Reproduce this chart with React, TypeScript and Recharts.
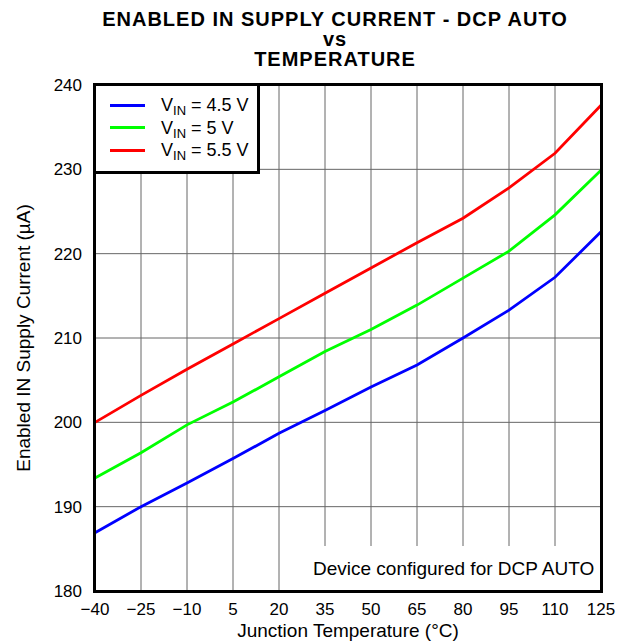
import React from 'react';
import { LineChart, Line, XAxis, YAxis, CartesianGrid, Legend, Label } from 'recharts';

const temps = [-40, -25, -10, 5, 20, 35, 50, 65, 80, 95, 110, 125];
const vin45 = [186.9, 190.0, 192.8, 195.7, 198.7, 201.4, 204.2, 206.8, 210.0, 213.3, 217.2, 222.6];
const vin5 = [193.4, 196.4, 199.7, 202.4, 205.4, 208.4, 211.0, 213.9, 217.1, 220.3, 224.6, 229.9];
const vin55 = [200.0, 203.2, 206.3, 209.3, 212.3, 215.3, 218.3, 221.3, 224.2, 227.8, 231.9, 237.6];
const yTicks = [180, 190, 200, 210, 220, 230, 240];

const seriesInfo = [
  { key: 'v45', label: '4.5 V', color: '#0000ff' },
  { key: 'v5', label: '5 V', color: '#00ff00' },
  { key: 'v55', label: '5.5 V', color: '#ff0000' },
];

const data = temps.map((t, i) => ({ t, v45: vin45[i], v5: vin5[i], v55: vin55[i] }));

const font = '"Liberation Sans", Arial, sans-serif';

const fmtTemp = (v: number) => (v < 0 ? '\u2212' + Math.abs(v) : String(v));

function LegendBox() {
  return (
    <div
      style={{
        width: 165,
        height: 89,
        boxSizing: 'border-box',
        borderRight: '3px solid #000',
        borderBottom: '3px solid #000',
        background: '#fff',
        fontFamily: font,
        fontSize: 18,
        paddingTop: 9,
      }}
    >
      {seriesInfo.map((s) => (
        <div key={s.key} style={{ display: 'flex', alignItems: 'center', height: 22.5 }}>
          <div style={{ marginLeft: 15, width: 35, height: 3, background: s.color }} />
          <div style={{ marginLeft: 16, color: '#000', whiteSpace: 'nowrap', lineHeight: '20px' }}>
            V<sub style={{ fontSize: 13, verticalAlign: -4, lineHeight: 0 }}>IN</sub> = {s.label}
          </div>
        </div>
      ))}
    </div>
  );
}

export default function App() {
  const titleLine = { fontSize: 20, lineHeight: '20px', letterSpacing: 1 };
  return (
    <div style={{ position: 'absolute', left: 0, top: 0, width: 630, height: 644, background: '#fff', fontFamily: font }}>
      <div style={{ position: 'absolute', left: 35, width: 600, top: 9, textAlign: 'center', fontWeight: 'bold', color: '#000' }}>
        <div style={titleLine}>ENABLED IN SUPPLY CURRENT - DCP AUTO</div>
        <div style={titleLine}>vs</div>
        <div style={titleLine}>TEMPERATURE</div>
      </div>
      <LineChart width={630} height={644} data={data} margin={{ top: 85, right: 29, bottom: 23, left: 20 }}>
        <CartesianGrid stroke="#666" strokeWidth={1} horizontalValues={yTicks} verticalValues={temps} />
        <XAxis
          dataKey="t"
          type="number"
          domain={[-40, 125]}
          ticks={temps}
          tickFormatter={fmtTemp}
          interval={0}
          height={30}
          axisLine={false}
          tickLine={false}
          tickMargin={6}
          tick={{ fill: '#000', fontSize: 17, fontFamily: font }}
        >
          <Label value="Junction Temperature (°C)" position="bottom" offset={2.5} style={{ fill: '#000', fontSize: 19, fontFamily: font }} />
        </XAxis>
        <YAxis
          type="number"
          domain={[180, 240]}
          ticks={yTicks}
          interval={0}
          width={75}
          axisLine={false}
          tickLine={false}
          tickMargin={7}
          tick={{ fill: '#000', fontSize: 17, fontFamily: font }}
        >
          <Label
            value="Enabled IN Supply Current (µA)"
            angle={-90}
            position="insideLeft"
            offset={3.3}
            style={{ textAnchor: 'middle', fill: '#000', fontSize: 19, fontFamily: font }}
          />
        </YAxis>
        <Legend
          layout="horizontal"
          verticalAlign="middle"
          align="center"
          content={() => <LegendBox />}
          wrapperStyle={{ position: 'absolute', left: 95, top: 85, width: 165, height: 89 }}
        />
        {seriesInfo.map((s) => (
          <Line
            key={s.key}
            dataKey={s.key}
            type="linear"
            stroke={s.color}
            strokeWidth={2.8}
            dot={false}
            activeDot={false}
            isAnimationActive={false}
          />
        ))}
      </LineChart>
      <div
        style={{
          position: 'absolute',
          left: 313,
          top: 546,
          width: 287,
          height: 44,
          background: '#fff',
          fontSize: 19,
          lineHeight: '19px',
          color: '#000',
          textAlign: 'right',
          boxSizing: 'border-box',
          paddingRight: 6,
          paddingTop: 13,
          whiteSpace: 'nowrap',
        }}
      >
        Device configured for DCP AUTO
      </div>
      <div
        style={{
          position: 'absolute',
          left: 93,
          top: 83,
          width: 510,
          height: 510,
          boxSizing: 'border-box',
          border: '3px solid #000',
          pointerEvents: 'none',
        }}
      />
    </div>
  );
}
